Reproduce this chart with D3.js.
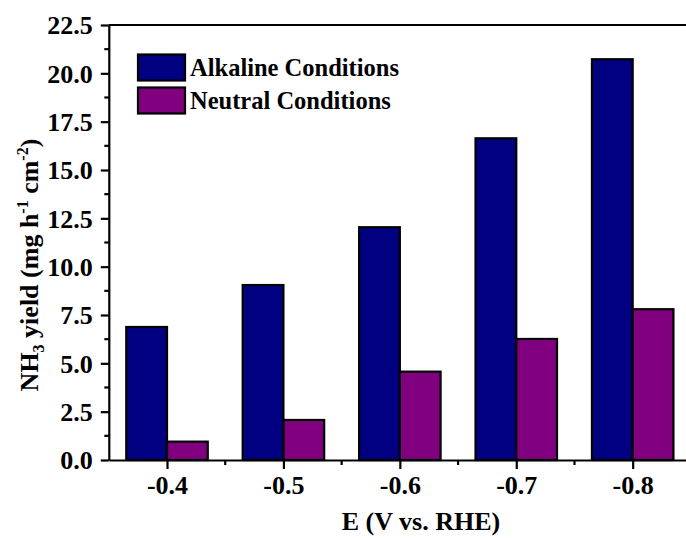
<!DOCTYPE html>
<html>
<head>
<meta charset="utf-8">
<script src="https://cdn.jsdelivr.net/npm/d3@7"></script>
<style>
  html, body { margin: 0; padding: 0; background: #fff; }
  svg { display: block; }
  text { font-family: "Liberation Serif", "Times New Roman", serif; font-weight: bold; fill: #000; }
</style>
</head>
<body>
<svg id="chart" width="686" height="538"></svg>
<script>
// Applied potential (V vs. RHE)
const potentials = [-0.4, -0.5, -0.6, -0.7, -0.8];
const potentialLabels = ["-0.4", "-0.5", "-0.6", "-0.7", "-0.8"];
// NH3 yield, mg h^-1 cm^-2
const alkaline = [6.88, 9.05, 12.04, 16.64, 20.73];
const neutral = [0.95, 2.07, 4.57, 6.26, 7.80];
const seriesNames = ["Alkaline Conditions", "Neutral Conditions"];
const seriesColors = ["#000080", "#800080"];
const yMajor = [0, 2.5, 5, 7.5, 10, 12.5, 15, 17.5, 20, 22.5];
const yMinor = [1.25, 3.75, 6.25, 8.75, 11.25, 13.75, 16.25, 18.75, 21.25];
const xMinor = [-0.45, -0.55, -0.65, -0.75];

const svg = d3.select("#chart");
const plotLeft = 108.8, plotRight = 690.9, plotTop = 25, plotBottom = 460;

const x = d3.scaleLinear().domain([-0.35, -0.85]).range([plotLeft, plotRight]);
const y = d3.scaleLinear().domain([0, 22.5]).range([plotBottom, plotTop]);
const barW = 0.035; // bar width in potential units

// bars: alkaline left of each tick, neutral right of it
const series = [alkaline, neutral];
series.forEach((vals, si) => {
  svg.append("g").selectAll("rect")
    .data(potentials.map((p, i) => ({ p, v: vals[i] })))
    .join("rect")
    .attr("x", d => si === 0 ? x(d.p + barW) : x(d.p))
    .attr("width", d => si === 0 ? x(d.p) - x(d.p + barW) : x(d.p - barW) - x(d.p))
    .attr("y", d => y(d.v))
    .attr("height", d => y(0) - y(d.v))
    .attr("fill", seriesColors[si])
    .attr("stroke", "#000")
    .attr("stroke-width", 2.2);
});

// y axis
const yAxis = svg.append("g").attr("transform", `translate(${plotLeft},0)`)
  .call(d3.axisLeft(y).tickValues(yMajor).tickFormat(d3.format(".1f")).tickSize(8).tickPadding(8).tickSizeOuter(0));
yAxis.attr("font-family", null);
yAxis.select(".domain").attr("stroke-width", 2.2);
yAxis.selectAll(".tick line").attr("stroke-width", 2.2);
yAxis.selectAll(".tick text").attr("font-size", 26).attr("dy", "0.34em");
svg.append("g").selectAll("line").data(yMinor).join("line")
  .attr("x1", plotLeft - 4.5).attr("x2", plotLeft).attr("y1", d => y(d)).attr("y2", d => y(d))
  .attr("stroke", "#000").attr("stroke-width", 2.2);

// x axis
const xAxis = svg.append("g").attr("transform", `translate(0,${plotBottom})`)
  .call(d3.axisBottom(x).tickValues(potentials).tickFormat((d, i) => potentialLabels[i]).tickSize(9).tickPadding(7).tickSizeOuter(0));
xAxis.attr("font-family", null);
xAxis.select(".domain").attr("stroke-width", 2.2);
xAxis.selectAll(".tick line").attr("stroke-width", 2.2);
xAxis.selectAll(".tick text").attr("font-size", 26);
svg.append("g").selectAll("line").data(xMinor).join("line")
  .attr("x1", d => x(d)).attr("x2", d => x(d)).attr("y1", plotBottom).attr("y2", plotBottom + 5)
  .attr("stroke", "#000").attr("stroke-width", 2.2);

// top frame line
svg.append("line").attr("x1", plotLeft).attr("x2", plotRight).attr("y1", plotTop).attr("y2", plotTop)
  .attr("stroke", "#000").attr("stroke-width", 2.2);

// axis titles
svg.append("text").attr("x", 421).attr("y", 530).attr("text-anchor", "middle")
  .attr("font-size", 26).text("E (V vs. RHE)");

const yTitle = svg.append("text").attr("transform", "translate(38,265) rotate(-90)")
  .attr("text-anchor", "middle").attr("font-size", 26);
yTitle.append("tspan").text("NH");
yTitle.append("tspan").attr("font-size", 16).attr("dy", 6).text("3");
yTitle.append("tspan").attr("dy", -6).text(" yield (mg h");
yTitle.append("tspan").attr("font-size", 16).attr("dy", -10).text("-1");
yTitle.append("tspan").attr("dy", 10).text(" cm");
yTitle.append("tspan").attr("font-size", 16).attr("dy", -10).text("-2");
yTitle.append("tspan").attr("dy", 10).text(")");

// legend
const legend = svg.append("g");
seriesNames.forEach((name, i) => {
  const ly = 54.5 + i * 33;
  legend.append("rect").attr("x", 138).attr("y", ly).attr("width", 47).attr("height", 26)
    .attr("fill", seriesColors[i]).attr("stroke", "#000").attr("stroke-width", 2.2);
  legend.append("text").attr("x", 190).attr("y", ly + 21).attr("font-size", 24.5).text(name);
});
</script>
</body>
</html>
